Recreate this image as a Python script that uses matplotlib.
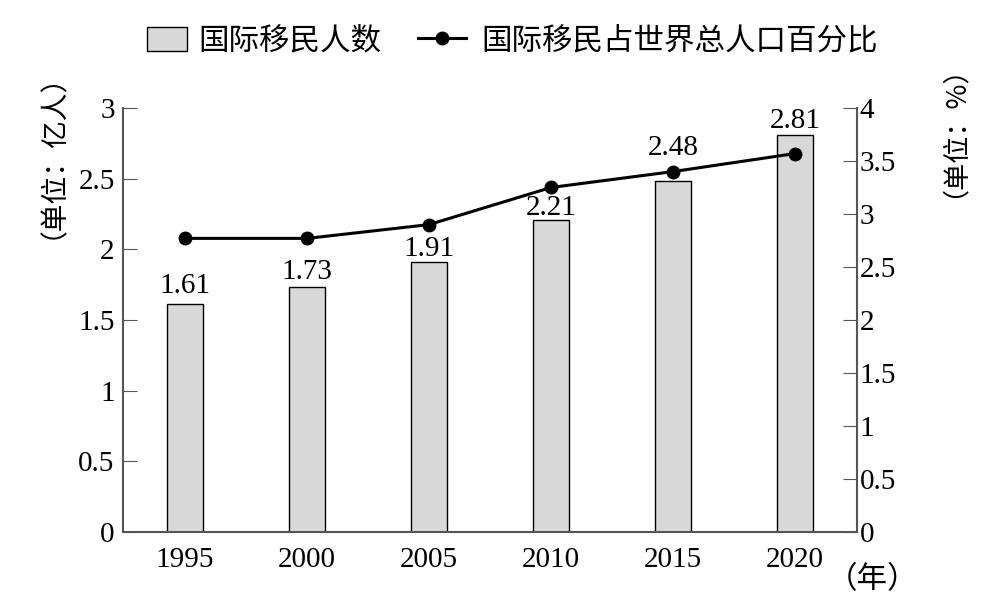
import matplotlib
matplotlib.use("Agg")
import matplotlib.pyplot as plt
from matplotlib.patches import Patch, Rectangle
from matplotlib.lines import Line2D
from matplotlib.legend_handler import HandlerPatch

years = ["1995", "2000", "2005", "2010", "2015", "2020"]
migrants = [1.61, 1.73, 1.91, 2.21, 2.48, 2.81]
share = [2.77, 2.77, 2.90, 3.25, 3.40, 3.57]
left_ticks = [0, 0.5, 1, 1.5, 2, 2.5, 3]
left_ticklabels = ["0", "0.5", "1", "1.5", "2", "2.5", "3"]
right_ticks = [0, 0.5, 1, 1.5, 2, 2.5, 3, 3.5, 4]
right_ticklabels = ["0", "0.5", "1", "1.5", "2", "2.5", "3", "3.5", "4"]

# gap (in points) between bar top and label baseline
label_gap_pt = [8, 6, 4, 3, 19, 5]

SERIF = ["Liberation Serif", "DejaVu Serif"]
CJK = ["Noto Sans CJK SC", "DejaVu Sans"]
NUM_SIZE = 21

fig = plt.figure(figsize=(9.82, 6.05), dpi=100)
ax = fig.add_axes([123/982, 73/605, (857-123)/982, (532-108)/605])
ax2 = ax.twinx()

x = list(range(len(years)))
ax.bar(x, migrants, width=0.30, color="#d9d9d9", edgecolor="black", linewidth=1.0, zorder=2)
for xi, v, g in zip(x, migrants, label_gap_pt):
    ax.annotate(f"{v:.2f}", (xi, v), xytext=(0, g), textcoords="offset points",
                ha="center", va="baseline", fontsize=NUM_SIZE, family=SERIF)

ax2.plot(x, share, color="black", linewidth=2.2, marker="o", markersize=9, zorder=3)

ax.set_xlim(-0.51, 5.51)
ax.set_ylim(0, 3)
ax2.set_ylim(0, 4)

ax.set_xticks(x)
ax.set_xticklabels(years, fontsize=NUM_SIZE, family=SERIF)
ax.tick_params(axis="x", length=0, pad=11)
ax.set_yticks(left_ticks)
ax.set_yticklabels(left_ticklabels, fontsize=NUM_SIZE, family=SERIF)
ax.tick_params(axis="y", direction="in", length=10, color="#555555", pad=6)
ax2.set_yticks(right_ticks)
ax2.set_yticklabels(right_ticklabels, fontsize=NUM_SIZE, family=SERIF)
ax2.tick_params(axis="y", direction="in", length=10, color="#555555", pad=2)

for a in (ax, ax2):
    a.spines["top"].set_visible(False)
    for s in ("left", "right", "bottom"):
        a.spines[s].set_color("#555555")
        a.spines[s].set_linewidth(1.5)
ax.spines["right"].set_visible(False)
ax2.spines["left"].set_visible(False)
ax2.spines["bottom"].set_visible(False)

fig.text(38/982, 1 - 142/605, "（单位：亿人）", rotation=90, ha="center", va="center",
         fontsize=20, family=CJK)
fig.text(940/982, 1 - 118/605, "（单位：%）", rotation=90, ha="center", va="center",
         fontsize=19.5, family=CJK)
fig.text(873/982, 1 - 580/605, "（年）", ha="center", va="center",
         fontsize=22, family=CJK)


def make_rect(legend, orig_handle, xdescent, ydescent, width, height, fontsize):
    rw = width * 40 / 49
    x0 = -xdescent + width - rw + width * 4 / 49
    return Rectangle((x0, -ydescent), rw, height)


handles = [Patch(facecolor="#d9d9d9", edgecolor="black", linewidth=1.0),
           Line2D([0], [0], color="black", linewidth=2.2, marker="o", markersize=9)]
leg = fig.legend(handles, ["国际移民人数", "国际移民占世界总人口百分比"],
                 loc="center", bbox_to_anchor=(506/982, 1 - 41/605), ncol=2, frameon=False,
                 prop={"family": CJK, "size": 22}, handlelength=1.6, handleheight=0.8,
                 columnspacing=1.2, handletextpad=0.5,
                 handler_map={Patch: HandlerPatch(patch_func=make_rect)})

fig.savefig("out.png", dpi=100)
